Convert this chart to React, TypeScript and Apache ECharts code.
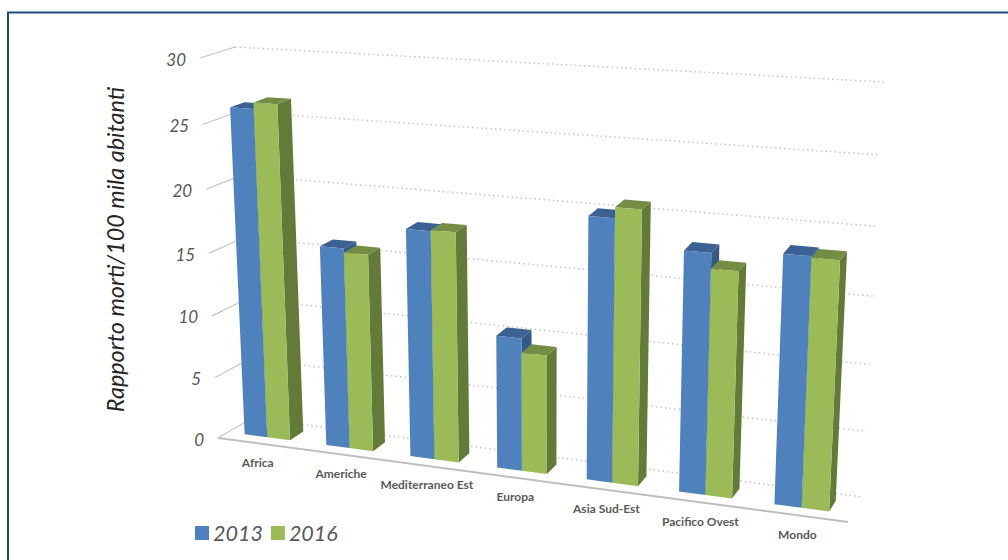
import React, { useEffect, useRef } from "react";
import * as echarts from "echarts";

const categories = ["Africa", "Americhe", "Mediterraneo Est", "Europa", "Asia Sud-Est", "Pacifico Ovest", "Mondo"];
const values2013 = [26.1, 15.95, 17.9, 10.4, 20.1, 18.2, 18.6];
const values2016 = [26.6, 15.65, 18.0, 9.3, 20.9, 17.05, 18.5];
const yTicks = [0, 5, 10, 15, 20, 25, 30];
const seriesNames = ["2013", "2016"];
const axisTitle = "Rapporto morti/100 mila abitanti";

const W = 1008;
const H = 560;
const FONT = "Lato, Carlito, 'Open Sans', sans-serif";
const TEXT = "#595959";

type P = [number, number];
function quad(p0: P, p1: P, p2: P, p3: P) {
  const dx1 = p1[0] - p2[0], dx2 = p3[0] - p2[0], sx = p0[0] - p1[0] + p2[0] - p3[0];
  const dy1 = p1[1] - p2[1], dy2 = p3[1] - p2[1], sy = p0[1] - p1[1] + p2[1] - p3[1];
  const den = dx1 * dy2 - dx2 * dy1;
  const g = (sx * dy2 - dx2 * sy) / den;
  const h = (dx1 * sy - sx * dy1) / den;
  const a = p1[0] - p0[0] + g * p1[0], b = p3[0] - p0[0] + h * p3[0];
  const d = p1[1] - p0[1] + g * p1[1], e = p3[1] - p0[1] + h * p3[1];
  return (u: number, v: number): P => {
    const w = g * u + h * v + 1;
    return [(a * u + b * v + p0[0]) / w, (d * u + e * v + p0[1]) / w];
  };
}
// Perspective planes of the 3D box: front and back walls, corners bottom-left, bottom-right, top-right, top-left.
const front = quad([218, 438], [848, 522], [867, 102], [200, 58]);
const back = quad([252, 418], [863, 497], [884, 82], [235, 47]);
function project(s: number, t: number, z: number): P {
  const a = front(s, t), b = back(s, t);
  return [a[0] + (b[0] - a[0]) * z, a[1] + (b[1] - a[1]) * z];
}
const BAR_W = 0.28;
const BAR_SHIFT = -0.015;
const Z0 = 0.3;
const Z1 = 0.72;

function barRenderer(side: number, faces: { front: string; top: string; side: string }) {
  return (params: any, api: any) => {
    const v = api.value(1);
    const [cx] = api.coord([params.dataIndex, 0]);
    const [, py] = api.coord([params.dataIndex, v]);
    const band = api.size([1, 0])[0];
    const s0 = (cx + ((side === 0 ? -BAR_W : 0) + BAR_SHIFT) * band) / W;
    const s1 = (cx + ((side === 0 ? 0 : BAR_W) + BAR_SHIFT) * band) / W;
    const t = 1 - py / H;
    const poly = (pts: P[], fill: string) => ({ type: "polygon", shape: { points: pts }, style: { fill }, silent: true });
    return {
      type: "group",
      children: [
        poly([project(s1, 0, Z0), project(s1, 0, Z1), project(s1, t, Z1), project(s1, t, Z0)], faces.side),
        poly([project(s0, t, Z0), project(s1, t, Z0), project(s1, t, Z1), project(s0, t, Z1)], faces.top),
        poly([project(s0, 0, Z0), project(s1, 0, Z0), project(s1, t, Z0), project(s0, t, Z0)], faces.front),
      ],
    };
  };
}

export default function App() {
  const ref = useRef<HTMLDivElement>(null);
  useEffect(() => {
    const chart = echarts.init(ref.current!, undefined, { renderer: "svg" });
    chart.setOption({
      animation: false,
      backgroundColor: "#ffffff",
      grid: { left: 0, right: 0, top: 0, bottom: 0 },
      xAxis: { type: "category", data: categories, show: false },
      yAxis: { type: "value", min: 0, max: 30, interval: 5, show: false },
      legend: {
        data: seriesNames,
        left: 190,
        top: 517,
        icon: "rect",
        itemWidth: 14,
        itemHeight: 14,
        itemGap: 8,
        selectedMode: false,
        textStyle: { fontFamily: FONT, fontStyle: "italic", fontSize: 21.5, color: TEXT, padding: [0, 0, 0, -1] },
      },
      graphic: [
        { type: "rect", shape: { x: 8, y: 12.5, width: 1200, height: 800 }, style: { fill: "none", stroke: "#1F497D", lineWidth: 2 }, silent: true },
        {
          type: "text", x: 115, y: 249.5, rotation: Math.PI / 2,
          style: { text: axisTitle, fill: "#262626", fontFamily: FONT, fontStyle: "italic", fontSize: 23.4, align: "center", verticalAlign: "middle" },
          silent: true,
        },
      ],
      series: [
        {
          type: "custom", name: "griglia", silent: true, z: 1,
          data: yTicks.map((t) => [0, t]),
          renderItem: (_p: any, api: any) => {
            const t = 1 - api.coord([0, api.value(1)])[1] / H;
            const a = project(0, t, 0), b = project(0, t, 1), c = project(1, t, 1);
            return {
              type: "group",
              children: [
                { type: "line", shape: { x1: a[0], y1: a[1], x2: b[0], y2: b[1] }, style: { stroke: "#c6c6c6", lineWidth: 1.2 } },
                { type: "line", shape: { x1: b[0], y1: b[1], x2: c[0], y2: c[1] }, style: { stroke: "#c4c4c4", lineWidth: 1.5, lineDash: [1.5, 3.1] } },
              ],
            };
          },
        },
        {
          type: "custom", name: "asse", silent: true, z: 1,
          data: [[0, 0]],
          renderItem: () => {
            const a = project(0, 0, 0), b = project(1, 0, 0);
            return { type: "line", shape: { x1: a[0], y1: a[1], x2: b[0], y2: b[1] }, style: { stroke: "#bfbfbf", lineWidth: 2 } };
          },
        },
        {
          type: "custom", name: "2013", z: 3, itemStyle: { color: "#4F81BD" },
          data: values2013.map((v, i) => [i, v]),
          renderItem: barRenderer(0, { front: "#4F81BD", top: "#3B6292", side: "#375A85" }),
        },
        {
          type: "custom", name: "2016", z: 3, itemStyle: { color: "#9BBB59" },
          data: values2016.map((v, i) => [i, v]),
          renderItem: barRenderer(1, { front: "#9BBB59", top: "#748C43", side: "#647A38" }),
        },
        {
          type: "custom", name: "tick", silent: true, z: 4,
          data: yTicks.map((t) => [0, t]),
          renderItem: (params: any, api: any) => {
            const t = 1 - api.coord([0, api.value(1)])[1] / H;
            const a = project(0, t, 0);
            return {
              type: "text",
              style: {
                text: String(yTicks[params.dataIndex]), x: a[0] - 14, y: a[1] + 1, fill: TEXT,
                fontFamily: FONT, fontStyle: "italic", fontSize: 17, align: "right", verticalAlign: "middle",
              },
            };
          },
        },
        {
          type: "custom", name: "categorie", silent: true, z: 4,
          data: categories.map((_c, i) => [i, 0]),
          renderItem: (params: any, api: any) => {
            const [cx] = api.coord([params.dataIndex, 0]);
            const a = project(cx / W, 0, 0);
            return {
              type: "text",
              style: {
                text: categories[params.dataIndex], x: a[0] - 1, y: a[1] + 19, fill: TEXT,
                fontFamily: FONT, fontWeight: "bold", fontSize: 12, align: "center", verticalAlign: "middle",
              },
            };
          },
        },
      ],
    });
    return () => chart.dispose();
  }, []);
  return <div ref={ref} style={{ position: "fixed", left: 0, top: 0, width: W, height: H }} />;
}
